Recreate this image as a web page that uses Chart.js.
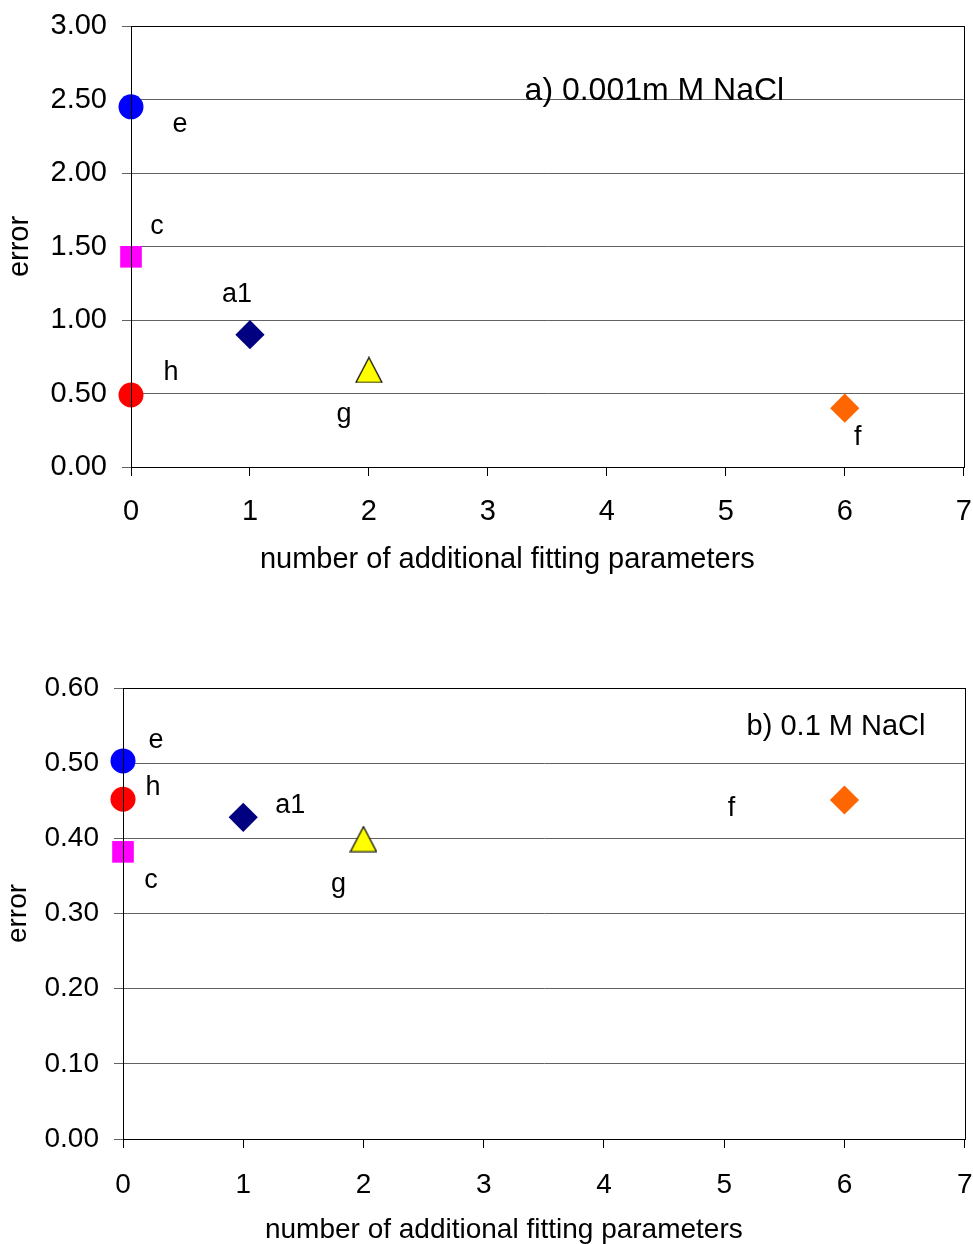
<!DOCTYPE html>
<html>
<head>
<meta charset="utf-8">
<script src="https://cdn.jsdelivr.net/npm/chart.js@4/dist/chart.umd.min.js"></script>
<style>
  html, body { margin: 0; padding: 0; background: #fff; overflow: hidden; }
  .panel { position: absolute; left: 0; }
  #panelA { top: 0; width: 979px; height: 600px; }
  #panelB { top: 640px; width: 980px; height: 607px; }
</style>
</head>
<body>
<div class="panel" id="panelA"><canvas id="chartA"></canvas></div>
<div class="panel" id="panelB"><canvas id="chartB"></canvas></div>
<script>
// model names and their number of additional fitting parameters
const models = ['e', 'c', 'a1', 'g', 'h', 'f'];
const extraParams = [0, 0, 1, 2, 0, 6];

// error values
const errorA = [2.45, 1.43, 0.90, 0.66, 0.49, 0.40];        // a) 0.001m M NaCl
const errorB = [0.503, 0.382, 0.428, 0.399, 0.452, 0.451];  // b) 0.1 M NaCl

const xTicks = [0, 1, 2, 3, 4, 5, 6, 7];
const yTicksA = [0, 0.5, 1, 1.5, 2, 2.5, 3];
const yTicksB = [0, 0.1, 0.2, 0.3, 0.4, 0.5, 0.6];

const FONT = "'Liberation Sans', Arial, sans-serif";

// Excel-style triangle, centred on its bounding box
function makeTriangle(w, h) {
    const c = document.createElement('canvas');
    c.width = w + 2;
    c.height = h + 2;
    const g = c.getContext('2d');
    g.beginPath();
    g.moveTo(1 + w / 2, 1);
    g.lineTo(1 + w, 1 + h);
    g.lineTo(1, 1 + h);
    g.closePath();
    g.fillStyle = '#ffff00';
    g.fill();
    g.strokeStyle = '#000';
    g.lineWidth = 1.2;
    g.stroke();
    return c;
}

// marker look for each model
const markerColor = ['#0000ff', '#ff00ff', '#000080', '#ffff00', '#ff0000', '#ff6600'];
const markerShape = ['circle', 'rect', 'rectRot', makeTriangle(26, 25), 'circle', 'rectRot'];
const markerSize = [12.5, 15.3, 14.6, 13, 12.5, 14.6];

// where each label sits relative to its marker (px)
const labelOffsetA = [[49, 18], [26, -30], [-13, -40], [-25, 45], [40, -22], [13, 29]];
const labelOffsetB = [[33, -20], [28, 29], [47, -12], [-25, 45], [30, -12], [-113, 9]];

const pointLabels = {
    id: 'pointLabels',
    afterDatasetsDraw(chart, args, opts) {
        const ctx = chart.ctx;
        const area = chart.chartArea;
        ctx.save();
        // plot frame
        ctx.strokeStyle = '#000';
        ctx.lineWidth = 1;
        ctx.strokeRect(Math.round(area.left) + 0.5, Math.round(area.top) + 0.5,
            Math.round(area.right - area.left), Math.round(area.bottom - area.top));

        ctx.fillStyle = '#000';
        ctx.textAlign = 'center';
        ctx.textBaseline = 'middle';
        ctx.font = opts.labelFont;
        chart.data.datasets.forEach((ds, i) => {
            const pt = chart.getDatasetMeta(i).data[0];
            const off = opts.offsets[i];
            ctx.fillText(ds.label, pt.x + off[0], pt.y + off[1]);
        });

        // x axis title, sits a little left of the plot centre as in the original
        ctx.font = opts.axisFont;
        ctx.fillText('number of additional fitting parameters',
            (area.left + area.right) / 2 - 40, area.bottom + opts.xTitleDrop);

        // panel caption, baseline on the given value
        ctx.font = opts.captionFont;
        ctx.textBaseline = 'alphabetic';
        const cx = chart.scales.x.getPixelForValue(opts.captionAt[0]);
        const cy = chart.scales.y.getPixelForValue(opts.captionAt[1]);
        ctx.fillText(opts.caption, cx, cy);
        ctx.restore();
    }
};

function buildChart(id, errors, yTicks, offsets, caption, captionAt, captionFont, sizes) {
    const datasets = models.map((m, i) => ({
        label: m,
        data: [{ x: extraParams[i], y: errors[i] }],
        pointStyle: markerShape[i],
        pointRadius: markerSize[i],
        pointHoverRadius: markerSize[i],
        backgroundColor: markerColor[i],
        borderColor: markerColor[i],
        borderWidth: 0,
        clip: false
    }));

    return new Chart(document.getElementById(id).getContext('2d'), {
        type: 'scatter',
        data: { datasets },
        plugins: [pointLabels],
        options: {
            responsive: true,
            maintainAspectRatio: false,
            animation: false,
            events: [],
            layout: { padding: { top: sizes.top, right: 0, left: 0, bottom: 0 } },
            plugins: {
                legend: { display: false },
                tooltip: { enabled: false },
                pointLabels: {
                    offsets,
                    caption,
                    captionAt,
                    captionFont,
                    labelFont: '27px ' + FONT,
                    axisFont: sizes.tick + 'px ' + FONT,
                    xTitleDrop: sizes.xTitleDrop
                }
            },
            scales: {
                x: {
                    type: 'linear',
                    min: xTicks[0],
                    max: xTicks[xTicks.length - 1],
                    afterBuildTicks: s => { s.ticks = xTicks.map(v => ({ value: v })); },
                    afterFit: s => {
                        s.height = sizes.xAxisHeight;
                        s.paddingLeft = 0;
                        s.paddingRight = 0;
                    },
                    border: { color: '#000', width: 1 },
                    grid: { drawOnChartArea: false, color: '#000', tickLength: 9 },
                    ticks: { color: '#000', font: { family: FONT, size: sizes.tick }, padding: sizes.xTickPad }
                },
                y: {
                    type: 'linear',
                    min: yTicks[0],
                    max: yTicks[yTicks.length - 1],
                    afterBuildTicks: s => { s.ticks = yTicks.map(v => ({ value: v })); },
                    afterFit: s => {
                        s.width = sizes.yAxisWidth;
                        s.paddingTop = 0;
                        s.paddingBottom = 0;
                    },
                    border: { color: '#000', width: 1 },
                    grid: { color: '#626262', tickLength: 9 },
                    ticks: {
                        color: '#000',
                        font: { family: FONT, size: sizes.tick },
                        padding: 15,
                        callback: v => v.toFixed(2)
                    },
                    title: {
                        display: true,
                        text: 'error',
                        color: '#000',
                        font: { family: FONT, size: sizes.tick },
                        padding: { top: sizes.yTitlePad, bottom: 0 }
                    }
                }
            }
        }
    });
}

buildChart('chartA', errorA, yTicksA, labelOffsetA,
    'a) 0.001m M NaCl', [4.4, 2.5], '32px ' + FONT,
    { top: 26, xAxisHeight: 133, yAxisWidth: 131, tick: 29,
      xTickPad: 19, xTitleDrop: 93, yTitlePad: 3 });

buildChart('chartB', errorB, yTicksB, labelOffsetB,
    'b) 0.1 M NaCl', [5.93, 0.537], '29px ' + FONT,
    { top: 48, xAxisHeight: 108, yAxisWidth: 123, tick: 28,
      xTickPad: 20, xTitleDrop: 91, yTitlePad: 1 });
</script>
</body>
</html>
